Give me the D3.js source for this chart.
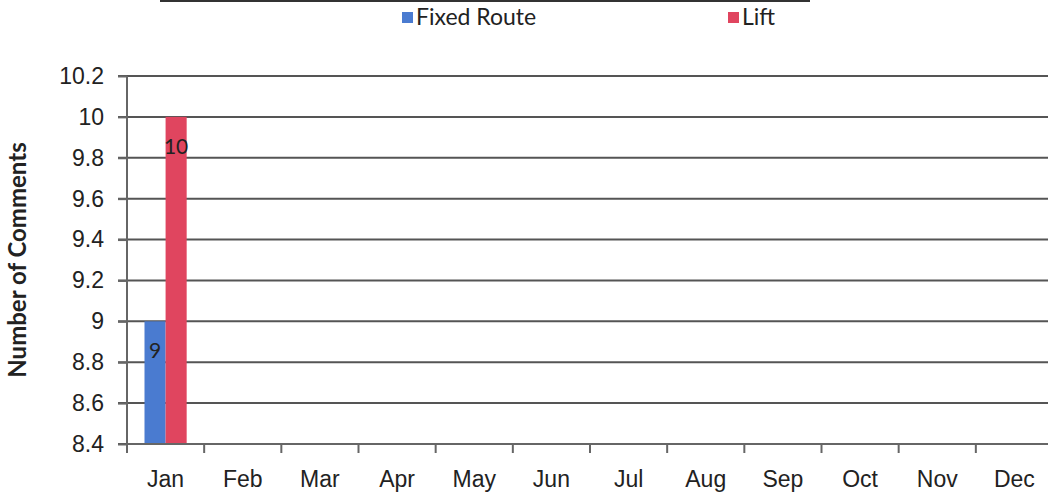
<!DOCTYPE html>
<html lang="en">
  <head>
    <title>Comments by Month</title>
    <script src="https://d3js.org/d3.v7.min.js"></script>
    <style>
      body { margin: 0; background: white; }
      svg { display: block; font-family: Lato, "Open Sans", sans-serif; }
      .grid line { stroke: #555; stroke-width: 2; }
      .axis path, .axis line { stroke: #666; stroke-width: 2; }
      .axis text { font-size: 23px; fill: #222; }
      .label { font-size: 21px; fill: #222; text-anchor: middle; }
    </style>
  </head>
  <body>
    <div id="chart"></div>
    <script>
      let width = 1048;
      let height = 495;

      // Data
      let months = ["Jan", "Feb", "Mar", "Apr", "May", "Jun", "Jul", "Aug", "Sep", "Oct", "Nov", "Dec"];
      let seriesNames = ["Fixed Route", "Lift"];
      let fixedRoute = [9, null, null, null, null, null, null, null, null, null, null, null];
      let lift = [10, null, null, null, null, null, null, null, null, null, null, null];
      let colors = ["#4a7bd0", "#e0455f"];
      let yTicks = [8.4, 8.6, 8.8, 9, 9.2, 9.4, 9.6, 9.8, 10, 10.2];

      let margin = { left: 127, right: -5, top: 76, bottom: 51 };

      let svg = d3.select("#chart").append("svg")
        .attr("width", width)
        .attr("height", height);

      let x = d3.scaleBand()
        .domain(months)
        .range([margin.left, width - margin.right]);
      let xInner = d3.scaleBand()
        .domain(seriesNames)
        .range([0, x.bandwidth()])
        .paddingOuter(0.83);
      let y = d3.scaleLinear()
        .domain([8.4, 10.2])
        .range([height - margin.bottom, margin.top]);

      // title underline cut at the top
      svg.append("line")
        .attr("x1", 160).attr("x2", 810)
        .attr("y1", 1).attr("y2", 1)
        .attr("stroke", "#333").attr("stroke-width", 2);

      // Gridlines
      svg.append("g").attr("class", "grid")
        .selectAll("line")
        .data(yTicks)
        .join("line")
        .attr("x1", margin.left - 9)
        .attr("x2", width)
        .attr("y1", d => y(d))
        .attr("y2", d => y(d));

      // Bars
      let series = [fixedRoute, lift];
      series.forEach(function (vals, i) {
        let rows = months.map((m, j) => ({ month: m, value: vals[j] })).filter(d => d.value != null);
        svg.append("g")
          .selectAll("rect")
          .data(rows)
          .join("rect")
          .attr("x", d => x(d.month) + xInner(seriesNames[i]))
          .attr("width", xInner.bandwidth())
          .attr("y", d => y(d.value))
          .attr("height", d => y(8.4) - y(d.value))
          .attr("fill", colors[i]);
        svg.append("g")
          .selectAll("text")
          .data(rows)
          .join("text")
          .attr("class", "label")
          .attr("x", d => x(d.month) + xInner(seriesNames[i]) + xInner.bandwidth() / 2)
          .attr("y", d => y(d.value) + 37)
          .text(d => d.value);
      });

      // Y axis
      let yAxis = svg.append("g").attr("class", "axis")
        .attr("transform", "translate(" + margin.left + ",0)")
        .call(d3.axisLeft(y).tickValues(yTicks).tickSize(9).tickPadding(14).tickFormat(d3.format("")));
      yAxis.select(".domain").attr("d", "M0," + (y(10.2)) + "V" + y(8.4));

      // X axis
      let xAxis = svg.append("g").attr("class", "axis")
        .attr("transform", "translate(0," + y(8.4) + ")")
        .call(d3.axisBottom(x).tickSize(0).tickPadding(27));
      xAxis.select(".domain").remove();
      xAxis.append("line")
        .attr("x1", margin.left).attr("x2", width).attr("y1", 0).attr("y2", 0);
      xAxis.append("g")
        .selectAll("line")
        .data(months)
        .join("line")
        .attr("x1", d => x(d)).attr("x2", d => x(d))
        .attr("y1", 0).attr("y2", 9);

      // Y title
      svg.append("text")
        .attr("transform", "translate(26," + (y(9.3)) + ") rotate(-90)")
        .attr("text-anchor", "middle")
        .attr("font-size", 24)
        .attr("font-weight", "bold")
        .attr("fill", "#222")
        .text("Number of Comments");

      // Legend
      let legendX = [402, 728];
      let legend = svg.append("g")
        .selectAll("g")
        .data(seriesNames)
        .join("g")
        .attr("transform", (d, i) => "translate(" + legendX[i] + ",12)");
      legend.append("rect")
        .attr("width", 11).attr("height", 11)
        .attr("fill", (d, i) => colors[i]);
      legend.append("text")
        .attr("x", 14).attr("y", 13)
        .attr("font-size", 23)
        .attr("fill", "#222")
        .text(d => d);
    </script>
  </body>
</html>
